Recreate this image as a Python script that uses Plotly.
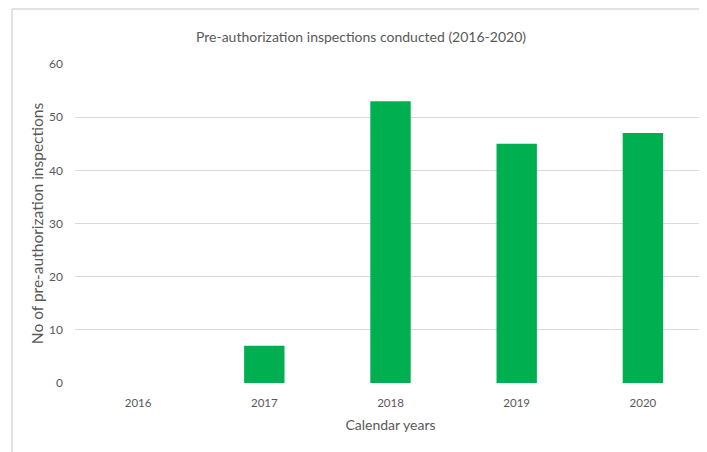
import plotly.graph_objects as go

years = ["2016", "2017", "2018", "2019", "2020"]
inspections = [0, 7, 53, 45, 47]
y_ticks = [0, 10, 20, 30, 40, 50, 60]

# page has an 8px body margin; figure coordinates are shifted accordingly
W, H = 699, 444
L, R, T, B = 67, 1, 56, 69
pw, ph = W - L - R, H - T - B

def px_x(px):
    return (px - L) / pw

def px_y(py):
    return (H - B - py) / ph

font_family = "Lato, 'Open Sans', sans-serif"
gray = "#595959"

fig = go.Figure(
    go.Bar(x=years, y=inspections, marker_color="#00b050", width=0.32,
           marker_line_width=0)
)

fig.update_layout(
    width=W, height=H,
    margin=dict(l=L, r=R, t=T, b=B),
    paper_bgcolor="white", plot_bgcolor="white",
    font=dict(family=font_family, color=gray, size=12),
    showlegend=False,
    title=dict(text="Pre-authorization inspections conducted (2016-2020)",
               x=353 / W, xanchor="center", y=1 - 29 / H, yanchor="middle",
               font=dict(size=14, color=gray, family=font_family)),
    xaxis=dict(showgrid=False, showline=False, ticks="", zeroline=False,
               tickfont=dict(size=11.5, color=gray), ticklabelstandoff=11,
               title=dict(text="Calendar years", font=dict(size=14, color=gray), standoff=12)),
    yaxis=dict(range=[0, 60], tickvals=y_ticks, showgrid=True, gridcolor="#d9d9d9",
               gridwidth=1, zeroline=False, showline=False, ticks="",
               tickfont=dict(size=12, color=gray), ticklabelstandoff=11,
               title=dict(text="No of pre-authorization inspections",
                          font=dict(size=15.5, color=gray), standoff=1)),
    shapes=[
        dict(type="line", xref="paper", yref="paper",
             x0=px_x(4), x1=px_x(4), y0=px_y(1), y1=px_y(H + 5),
             line=dict(color="#d9d9d9", width=1.5)),
        dict(type="line", xref="paper", yref="paper",
             x0=px_x(4), x1=px_x(W + 5), y0=px_y(1), y1=px_y(1),
             line=dict(color="#d9d9d9", width=1.5)),
    ],
)

fig.write_html("out.html")
